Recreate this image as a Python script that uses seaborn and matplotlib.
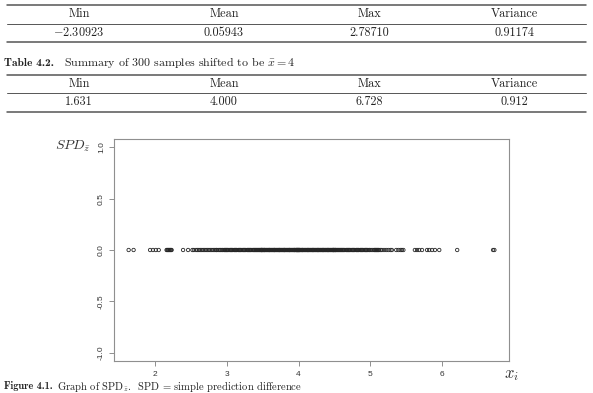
import matplotlib
matplotlib.use("Agg")
import matplotlib.pyplot as plt
import seaborn as sns
import pandas as pd
from matplotlib.lines import Line2D

# ---------------- data ----------------
table_headers = ["Min", "Mean", "Max", "Variance"]
table1_values = [r"$-2.30923$", "0.05943", "2.78710", "0.91174"]
table2_values = ["1.631", "4.000", "6.728", "0.912"]
table2_caption_bold = "Table 4.2."
table2_caption = r"Summary of 300 samples shifted to be $\bar{x} = 4$"
figure_caption_bold = "Figure 4.1."
figure_caption = r"Graph of SPD$_{\bar{z}}$.  SPD = simple prediction difference"

# x_i values (300 shifted samples)
x_values = [
    1.631, 1.70, 1.93, 1.97, 2.01, 2.05, 2.16, 2.17, 2.18, 2.19, 2.20, 2.21, 2.22, 2.23, 2.39, 2.46,
    2.52, 2.54, 2.57, 2.59, 2.61, 2.63, 2.65, 2.67, 2.69, 2.71, 2.73, 2.75, 2.77, 2.79, 2.81, 2.83,
    2.85, 2.86, 2.88, 2.90, 2.91, 2.93, 2.94, 2.96, 2.97, 2.98, 2.99,
    3.00, 3.01, 3.02, 3.04, 3.05, 3.06, 3.07, 3.08, 3.10, 3.11, 3.12, 3.13, 3.14, 3.16, 3.17, 3.18,
    3.19, 3.20, 3.22, 3.23, 3.24, 3.25, 3.26, 3.28, 3.29, 3.30, 3.31, 3.32, 3.33, 3.34, 3.36, 3.37,
    3.38, 3.39, 3.40, 3.41, 3.42, 3.43, 3.44, 3.45, 3.46, 3.47, 3.48, 3.48, 3.49, 3.49,
    3.50, 3.51, 3.52, 3.52, 3.53, 3.54, 3.55, 3.56, 3.57, 3.58, 3.59, 3.59, 3.60, 3.61, 3.62, 3.63,
    3.64, 3.65, 3.66, 3.66, 3.67, 3.68, 3.69, 3.70, 3.71, 3.72, 3.73, 3.73, 3.74, 3.75, 3.76, 3.77,
    3.78, 3.79, 3.80, 3.80, 3.81, 3.82, 3.83, 3.84, 3.85, 3.86, 3.87, 3.87, 3.88, 3.89, 3.90, 3.91,
    3.92, 3.93, 3.94, 3.94, 3.95, 3.96, 3.97, 3.97, 3.98, 3.98, 3.99, 3.99,
    4.00, 4.00, 4.01, 4.01, 4.02, 4.03, 4.04, 4.05, 4.05, 4.06, 4.07, 4.08, 4.09, 4.10, 4.11, 4.12,
    4.13, 4.13, 4.14, 4.15, 4.16, 4.17, 4.18, 4.19, 4.20, 4.20, 4.21, 4.22, 4.23, 4.24, 4.25, 4.26,
    4.27, 4.27, 4.28, 4.29, 4.30, 4.31, 4.32, 4.33, 4.34, 4.34, 4.35, 4.36, 4.37, 4.38, 4.39, 4.40,
    4.41, 4.41, 4.42, 4.43, 4.44, 4.45, 4.46, 4.47, 4.48, 4.48, 4.49, 4.49,
    4.50, 4.51, 4.51, 4.52, 4.53, 4.54, 4.55, 4.56, 4.57, 4.58, 4.59, 4.60, 4.61, 4.62, 4.63, 4.64,
    4.66, 4.67, 4.68, 4.69, 4.70, 4.71, 4.72, 4.74, 4.75, 4.76, 4.77, 4.78, 4.80, 4.81, 4.82, 4.83,
    4.84, 4.86, 4.87, 4.88, 4.89, 4.90, 4.92, 4.93, 4.94, 4.95, 4.96, 4.98, 4.99,
    5.01, 5.03, 5.05, 5.06, 5.07, 5.08, 5.09, 5.10, 5.11, 5.12, 5.14, 5.16, 5.19, 5.22, 5.25, 5.28,
    5.30, 5.36, 5.39, 5.42, 5.44, 5.46,
    5.62, 5.65, 5.68, 5.72, 5.79, 5.82, 5.86, 5.90, 5.96, 6.21, 6.71, 6.728,
]
# simple prediction difference: every point lies on zero
spd_values = [0.0] * len(x_values)

x_ticks = [2, 3, 4, 5, 6]
x_tick_labels = ["2", "3", "4", "5", "6"]
y_ticks = [-1.0, -0.5, 0.0, 0.5, 1.0]
y_tick_labels = ["-1.0", "-0.5", "0.0", "0.5", "1.0"]

# ---------------- figure ----------------
sns.set_theme(style="white")
plt.rcParams["mathtext.fontset"] = "cm"
plt.rcParams["axes.unicode_minus"] = False

W, H = 593, 393
fig = plt.figure(figsize=(W / 100, H / 100), dpi=100)
fig.patch.set_facecolor("white")


def fx(x):
    return x / W


def fy(y):
    return 1 - y / H


def hline(y, lw):
    fig.add_artist(Line2D([fx(7), fx(586)], [fy(y), fy(y)], transform=fig.transFigure,
                          color="#555555", lw=lw))


col_x = [79, 224, 369, 514]
serif = dict(family="cmr10", fontsize=8.8, color="#222222", ha="center", va="center")

# table 4.1 (top, partially shown)
hline(5, 1.1)
for cx, t in zip(col_x, table_headers):
    fig.text(fx(cx), fy(14), t, **serif)
hline(23.5, 0.7)
for cx, t in zip(col_x, table1_values):
    fig.text(fx(cx), fy(33), t, **serif)
hline(42, 1.1)

# table 4.2
fig.text(fx(4), fy(63), table2_caption_bold, family="cmb10", fontsize=8.2,
         color="#222222", ha="left", va="center")
fig.text(fx(64), fy(63), table2_caption, family="cmr10", fontsize=8.6,
         color="#222222", ha="left", va="center")
hline(75, 1.1)
for cx, t in zip(col_x, table_headers):
    fig.text(fx(cx), fy(84), t, **serif)
hline(93, 0.7)
for cx, t in zip(col_x, table2_values):
    fig.text(fx(cx), fy(102), t, **serif)
hline(112, 1.1)

# plot
ax = fig.add_axes([fx(114), fy(361), (509 - 114) / W, (361 - 139) / H])
df = pd.DataFrame({"x": x_values, "spd": spd_values})
sns.scatterplot(data=df, x="x", y="spd", ax=ax, marker="o", s=6,
                facecolor="none", edgecolor="#262626", linewidth=0.6, legend=False)
ax.set_xlim(1.427, 6.932)
ax.set_ylim(-1.08, 1.08)
ax.set_xticks(x_ticks)
ax.set_xticklabels(x_tick_labels)
ax.set_yticks(y_ticks)
ax.set_yticklabels(y_tick_labels, rotation=90, va="center")
ax.set_xlabel("")
ax.set_ylabel("")
for s in ax.spines.values():
    s.set_visible(True)
    s.set_color("#8f8f8f")
    s.set_linewidth(0.8)
ax.tick_params(axis="both", direction="out", length=3.5, width=0.7, color="#8f8f8f",
               labelsize=6.0, labelcolor="#333333", bottom=True, left=True)
ax.tick_params(axis="x", pad=3.5)
ax.tick_params(axis="y", pad=3)
for lab in ax.get_xticklabels() + ax.get_yticklabels():
    lab.set_family("Liberation Sans")
ax.set_facecolor("white")
ax.grid(False)

fig.text(fx(55), fy(146), r"$SPD_{\bar{z}}$", fontsize=10, color="#333333",
         ha="left", va="center")
fig.text(fx(504), fy(374), r"$x_{i}$", fontsize=12, color="#333333",
         ha="left", va="center")

# figure caption (at bottom edge)
fig.text(fx(4), fy(386.2), figure_caption_bold, family="cmb10", fontsize=7.4,
         color="#222222", ha="left", va="center")
fig.text(fx(57), fy(386.2), figure_caption, family="cmr10", fontsize=7.6,
         color="#222222", ha="left", va="center")

fig.savefig("out.png", dpi=100, facecolor="white")
